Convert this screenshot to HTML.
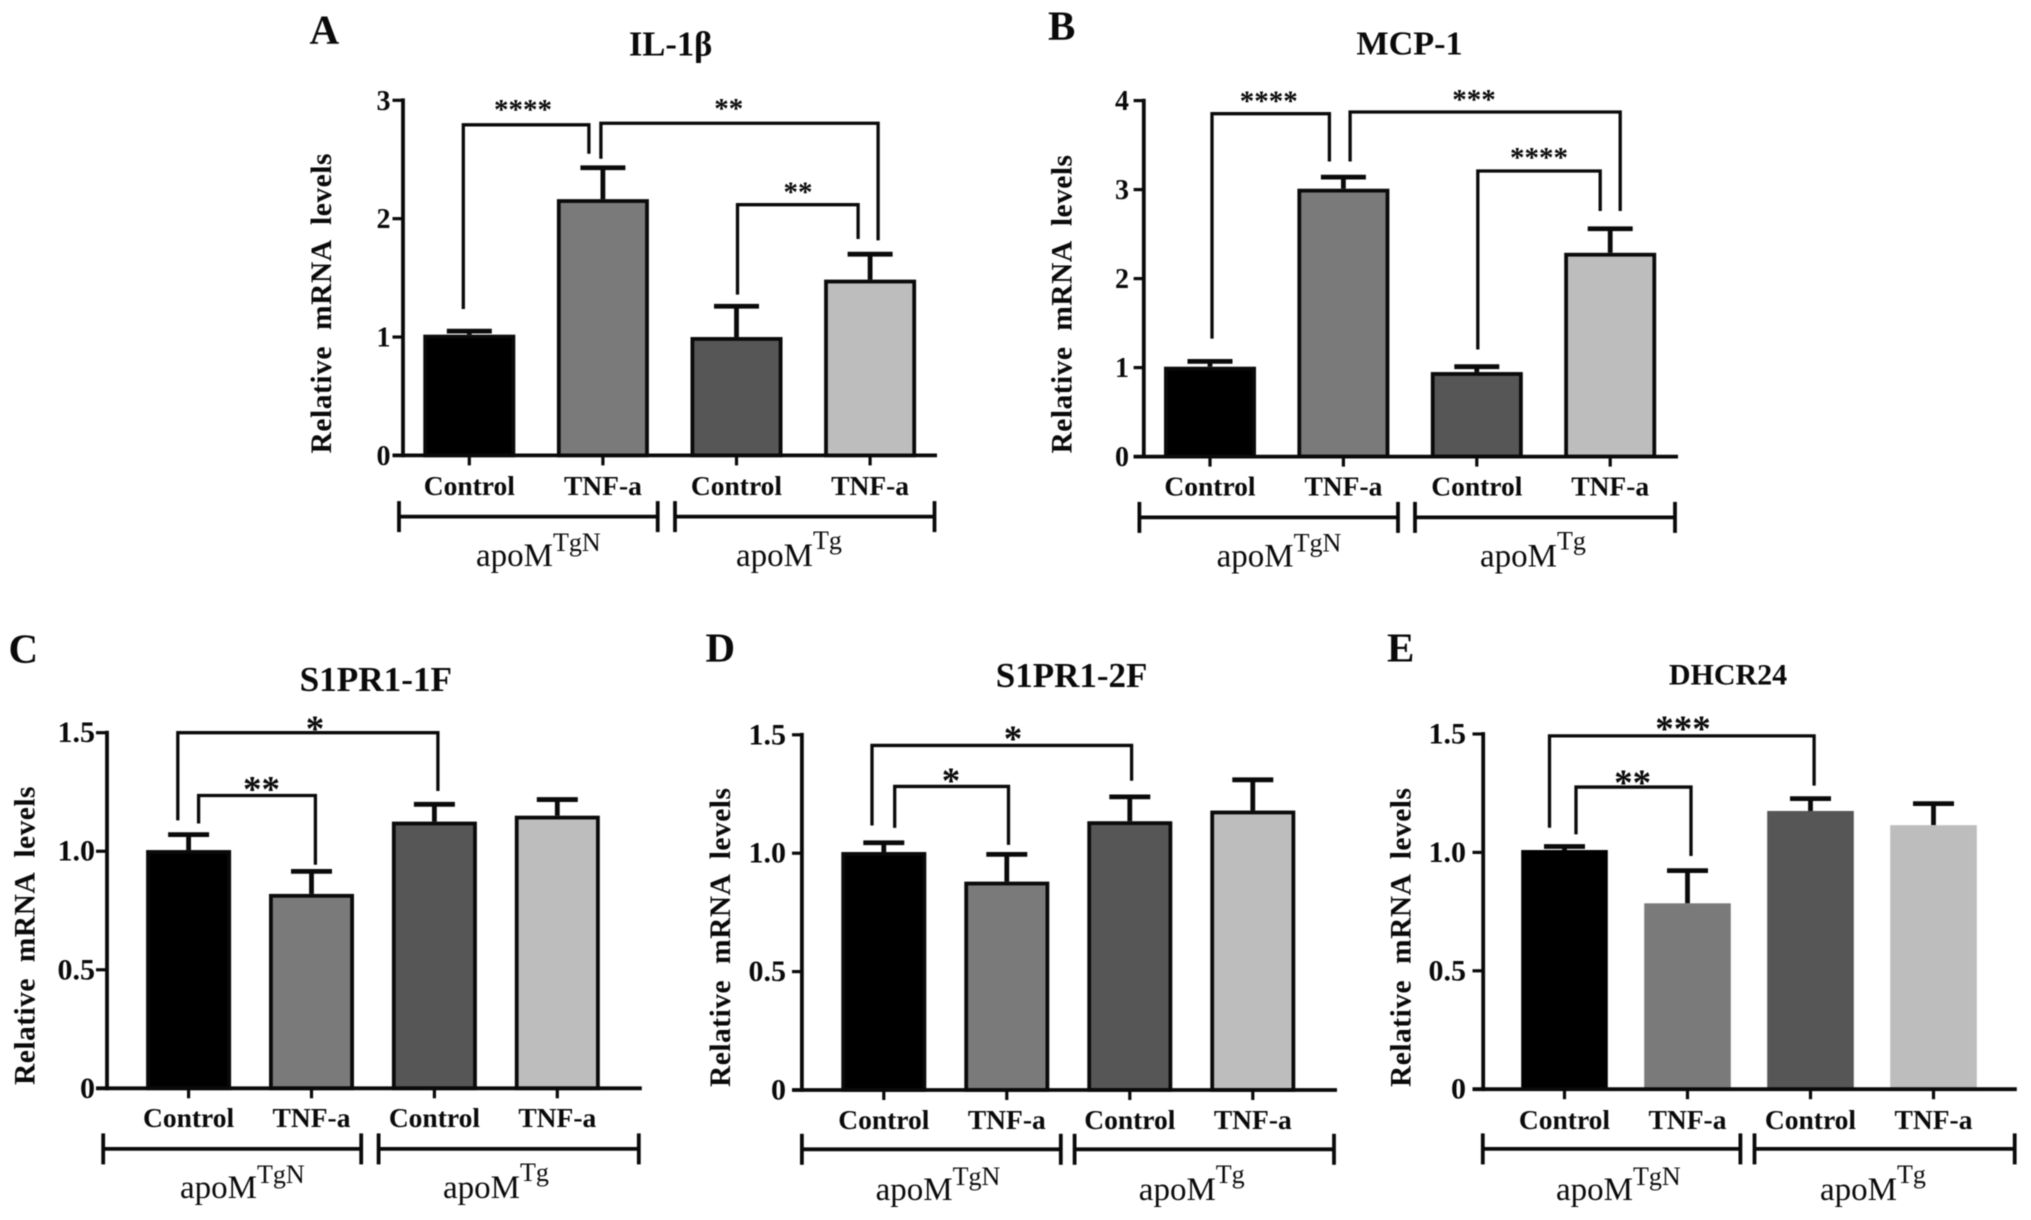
<!DOCTYPE html>
<html lang="en">
<head>
<meta charset="utf-8">
<title>Relative mRNA levels</title>
<style>
html,body{margin:0;padding:0;background:#fff;width:2031px;height:1220px;overflow:hidden}
svg{display:block;filter:blur(.6px)}
text{font-family:"Liberation Serif",serif;fill:#0a0a0a}
</style>
</head>
<body>
<svg id="figure" xmlns="http://www.w3.org/2000/svg" width="2031" height="1220" viewBox="0 0 2031 1220"></svg>
<script>
const categories = ['Control', 'TNF-a', 'Control', 'TNF-a'];
const groupLabels = ['TgN', 'Tg'];
const barColors = ['#000000', '#7a7a7a', '#565656', '#bdbdbd'];

const il1bMeans = [1.02, 2.165, 1.00, 1.485];
const il1bErrorTops = [1.05, 2.43, 1.26, 1.70];
const il1bTicks = ['0', '1', '2', '3'];

const mcp1Means = [1.01, 3.01, 0.95, 2.29];
const mcp1ErrorTops = [1.07, 3.14, 1.01, 2.56];
const mcp1Ticks = ['0', '1', '2', '3', '4'];

const s1pr1fMeans = [1.005, 0.82, 1.125, 1.15];
const s1pr1fErrorTops = [1.07, 0.915, 1.198, 1.218];

const s1pr2fMeans = [1.005, 0.88, 1.135, 1.18];
const s1pr2fErrorTops = [1.044, 0.995, 1.238, 1.31];

const dhcr24Means = [1.01, 0.785, 1.175, 1.115];
const dhcr24ErrorTops = [1.025, 0.923, 1.227, 1.206];

const fractionTicks = ['0', '0.5', '1.0', '1.5'];

const panels = [
  {id:'a', letter:'A', letterX:309.5, letterY:43.5, title:'IL-1β', titleX:670.6, titleY:55.5, titleSize:34.5,
   means:il1bMeans, errs:il1bErrorTops, ticks:il1bTicks, max:3,
   axisX:403, tickLeft:392.5, axisRight:937, y0:455.4, yTop:100.3, tickSize:28, tickGap:2,
   cx0:469.3, step:133.6, barW:92, barStroke:3.8, capW:45,
   yTitleX:331, yTitleStart:453.5, yTitleLen:300,
   catY:495, groupY:516.6, g1:[399,657.7], g2:[675,934.5], lab1:[476,566], lab2:[736,566],
   starSize:29,
   brackets:[
     {a:0,adx:-6,aEnd:1.237,top:2.793,b:1,bdx:-14,bEnd:2.548,stars:'****',sx:523,sy:105},
     {a:1,adx:-2,aEnd:2.506,top:2.806,b:3,bdx:8,bEnd:1.817,stars:'**',sx:728.7,sy:104},
     {a:2,adx:1,aEnd:1.358,top:2.118,b:3,bdx:-12,bEnd:1.828,stars:'**',sx:798,sy:187.5}
   ]},
  {id:'b', letter:'B', letterX:1048, letterY:39.5, title:'MCP-1', titleX:1409.5, titleY:54.7, titleSize:34.2,
   means:mcp1Means, errs:mcp1ErrorTops, ticks:mcp1Ticks, max:4,
   axisX:1143.8, tickLeft:1133.6, axisRight:1678, y0:456.6, yTop:100.6, tickSize:28, tickGap:4.6,
   cx0:1210, step:133.4, barW:92, barStroke:3.8, capW:45,
   yTitleX:1071.5, yTitleStart:453.5, yTitleLen:298.5,
   catY:495.5, groupY:517.4, g1:[1139.4,1398], g2:[1415,1675], lab1:[1216.6,566.5], lab2:[1480,566.5],
   starSize:29,
   brackets:[
     {a:0,adx:2,aEnd:1.325,top:3.853,b:1,bdx:-14,bEnd:3.316,stars:'****',sx:1268.8,sy:96.4},
     {a:1,adx:6.7,aEnd:3.316,top:3.872,b:3,bdx:10,bEnd:2.76,stars:'***',sx:1474,sy:95},
     {a:2,adx:1,aEnd:1.204,top:3.209,b:3,bdx:-10,bEnd:2.76,stars:'****',sx:1539,sy:153}
   ]},
  {id:'c', letter:'C', letterX:8.5, letterY:662.5, title:'S1PR1-1F', titleX:375.8, titleY:690.8, titleSize:35.2,
   means:s1pr1fMeans, errs:s1pr1fErrorTops, ticks:fractionTicks, max:1.5,
   axisX:107, tickLeft:96, axisRight:641.8, y0:1088.3, yTop:732.7, tickSize:30, tickGap:1,
   cx0:188.6, step:122.9, barW:85, barStroke:3.8, capW:41,
   yTitleX:34.7, yTitleStart:1085, yTitleLen:298.5,
   catY:1127, groupY:1148.9, g1:[103.2,361.2], g2:[378.6,638.8], lab1:[180,1198], lab2:[443,1198],
   starSize:37,
   brackets:[
     {a:0,adx:-10.8,aEnd:1.13,top:1.5,b:2,bdx:3.5,bEnd:1.254,stars:'*',sx:315,sy:723},
     {a:0,adx:10,aEnd:1.117,top:1.235,b:1,bdx:3.9,bEnd:0.943,stars:'**',sx:261.5,sy:783.8}
   ]},
  {id:'d', letter:'D', letterX:705.5, letterY:661.5, title:'S1PR1-2F', titleX:1071.6, titleY:687, titleSize:35,
   means:s1pr2fMeans, errs:s1pr2fErrorTops, ticks:fractionTicks, max:1.5,
   axisX:801.9, tickLeft:792, axisRight:1337, y0:1090, yTop:734.8, tickSize:30, tickGap:6,
   cx0:883.8, step:123, barW:85, barStroke:3.8, capW:41,
   yTitleX:730, yTitleStart:1087, yTitleLen:299,
   catY:1129, groupY:1149.3, g1:[801.9,1060.8], g2:[1074.6,1334], lab1:[875.6,1199.8], lab2:[1138.8,1199.8],
   starSize:37,
   brackets:[
     {a:0,adx:-11.8,aEnd:1.117,top:1.455,b:2,bdx:1.8,bEnd:1.306,stars:'*',sx:1013,sy:733},
     {a:0,adx:10.9,aEnd:1.107,top:1.282,b:1,bdx:1.7,bEnd:1.035,stars:'*',sx:951,sy:775}
   ]},
  {id:'e', letter:'E', letterX:1387, letterY:661.5, title:'DHCR24', titleX:1728, titleY:684.3, titleSize:30,
   means:dhcr24Means, errs:dhcr24ErrorTops, ticks:fractionTicks, max:1.5,
   axisX:1483.2, tickLeft:1472.5, axisRight:2016.8, y0:1089.2, yTop:734, tickSize:30, tickGap:6.5,
   cx0:1564.5, step:123, barW:86.6, barStroke:0, capW:41,
   yTitleX:1410.5, yTitleStart:1087, yTitleLen:299,
   catY:1129, groupY:1148.9, g1:[1482.8,1740.4], g2:[1754.5,2014.7], lab1:[1556,1199.8], lab2:[1820,1199.8],
   starSize:37,
   brackets:[
     {a:0,adx:-15,aEnd:1.104,top:1.492,b:2,bdx:3.6,bEnd:1.282,stars:'***',sx:1683,sy:723},
     {a:0,adx:11.5,aEnd:1.076,top:1.276,b:1,bdx:3.5,bEnd:0.985,stars:'**',sx:1632.6,sy:777}
   ]}
];

const NS = 'http://www.w3.org/2000/svg';
const INK = '#0a0a0a';

function addLine(parent, x1, y1, x2, y2, width, name) {
  const el = document.createElementNS(NS, 'line');
  el.setAttribute('x1', x1);
  el.setAttribute('y1', y1);
  el.setAttribute('x2', x2);
  el.setAttribute('y2', y2);
  el.setAttribute('stroke', INK);
  el.setAttribute('stroke-width', width);
  
  
  parent.appendChild(el);
  return el;
}

function addText(parent, content, x, y, size, weight, anchor, name) {
  const el = document.createElementNS(NS, 'text');
  el.setAttribute('x', x);
  el.setAttribute('y', y);
  el.setAttribute('font-size', size);
  el.setAttribute('font-weight', weight);
  el.setAttribute('text-anchor', anchor);
  el.textContent = content;
  
  
  parent.appendChild(el);
  return el;
}

function drawPanel(p) {
  const svg = document.getElementById('figure');
  const g = document.createElementNS(NS, 'g');
  
  
  svg.appendChild(g);

  const yScale = v => p.y0 - (v / p.max) * (p.y0 - p.yTop);
  const xScale = i => p.cx0 + i * p.step;

  addText(g, p.letter, p.letterX, p.letterY, 41, 'bold', 'start', 'panel-letter-' + p.id);
  addText(g, p.title, p.titleX, p.titleY, p.titleSize, 'bold', 'middle', 'chart-title-' + p.id);

  const yt = addText(g, 'Relative mRNA levels', 0, 0, 29.5, 'bold', 'start', 'y-axis-title-' + p.id);
  yt.setAttribute('transform', 'translate(' + p.yTitleX + ' ' + p.yTitleStart + ') rotate(-90)');
  yt.setAttribute('word-spacing', '8');
  yt.setAttribute('textLength', p.yTitleLen);

  // error bars sit behind the bars
  p.means.forEach((m, i) => {
    const cx = xScale(i);
    const top = yScale(p.errs[i]);
    addLine(g, cx, yScale(m), cx, top, 4.8, 'error-stem-' + p.id + '-' + i);
    addLine(g, cx - p.capW / 2, top, cx + p.capW / 2, top, 4.8, 'error-cap-' + p.id + '-' + i);
  });

  // bars
  p.means.forEach((m, i) => {
    const cx = xScale(i);
    const sw = p.barStroke;
    const top = yScale(m);
    const rect = document.createElementNS(NS, 'rect');
    rect.setAttribute('x', cx - p.barW / 2 + sw / 2);
    rect.setAttribute('y', top + sw / 2);
    rect.setAttribute('width', p.barW - sw);
    rect.setAttribute('height', Math.max(0, p.y0 - top - sw / 2));
    rect.setAttribute('fill', barColors[i]);
    if (sw) {
      rect.setAttribute('stroke', INK);
      rect.setAttribute('stroke-width', sw);
    }
    
    
    g.appendChild(rect);
  });

  // axes
  addLine(g, p.axisX, p.yTop - 1.9, p.axisX, p.y0 + 1.9, 3.8, 'y-axis-' + p.id);
  addLine(g, p.tickLeft, p.y0, p.axisRight, p.y0, 3.8, 'x-axis-' + p.id);

  p.ticks.forEach((label, i) => {
    const v = parseFloat(label);
    const y = yScale(v);
    addLine(g, p.tickLeft, y, p.axisX, y, 3.2, 'y-tick-' + p.id + '-' + i);
    addText(g, label, p.tickLeft - p.tickGap, y + 9.5, p.tickSize, 'bold', 'end', 'y-tick-label-' + p.id + '-' + i);
  });

  categories.forEach((c, i) => {
    const cx = xScale(i);
    addLine(g, cx, p.y0, cx, p.y0 + 10, 3.2, 'x-tick-' + p.id + '-' + i);
    addText(g, c, cx, p.catY, 27.5, 'bold', 'middle', 'x-tick-label-' + p.id + '-' + i);
  });

  // group brackets
  [p.g1, p.g2].forEach((span, i) => {
    addLine(g, span[0], p.groupY, span[1], p.groupY, 3.8, 'group-line-' + p.id + '-' + i);
    addLine(g, span[0], p.groupY - 15.5, span[0], p.groupY + 15.5, 3.8, 'group-end-left-' + p.id + '-' + i);
    addLine(g, span[1], p.groupY - 15.5, span[1], p.groupY + 15.5, 3.8, 'group-end-right-' + p.id + '-' + i);
  });

  [p.lab1, p.lab2].forEach((pos, i) => {
    const t = addText(g, 'apoM', pos[0], pos[1], 33, 'normal', 'start', 'group-label-' + p.id + '-' + i);
    const sup = document.createElementNS(NS, 'tspan');
    sup.setAttribute('dy', i === 0 ? -15 : -17);
    sup.setAttribute('font-size', 26);
    sup.textContent = groupLabels[i];
    t.appendChild(sup);
  });

  // significance brackets
  p.brackets.forEach((b, i) => {
    const xa = xScale(b.a) + b.adx;
    const xb = xScale(b.b) + b.bdx;
    const yt2 = yScale(b.top);
    const path = document.createElementNS(NS, 'path');
    path.setAttribute('d', 'M' + xa + ' ' + yScale(b.aEnd) + 'V' + yt2 + 'H' + xb + 'V' + yScale(b.bEnd));
    path.setAttribute('fill', 'none');
    path.setAttribute('stroke', INK);
    path.setAttribute('stroke-width', 3.3);
    
    
    g.appendChild(path);
    addText(g, b.stars, b.sx, b.sy + 0.48 * p.starSize, p.starSize, 'bold', 'middle', 'significance-stars-' + p.id + '-' + i);
  });
}

panels.forEach(drawPanel);
</script>
</body>
</html>
